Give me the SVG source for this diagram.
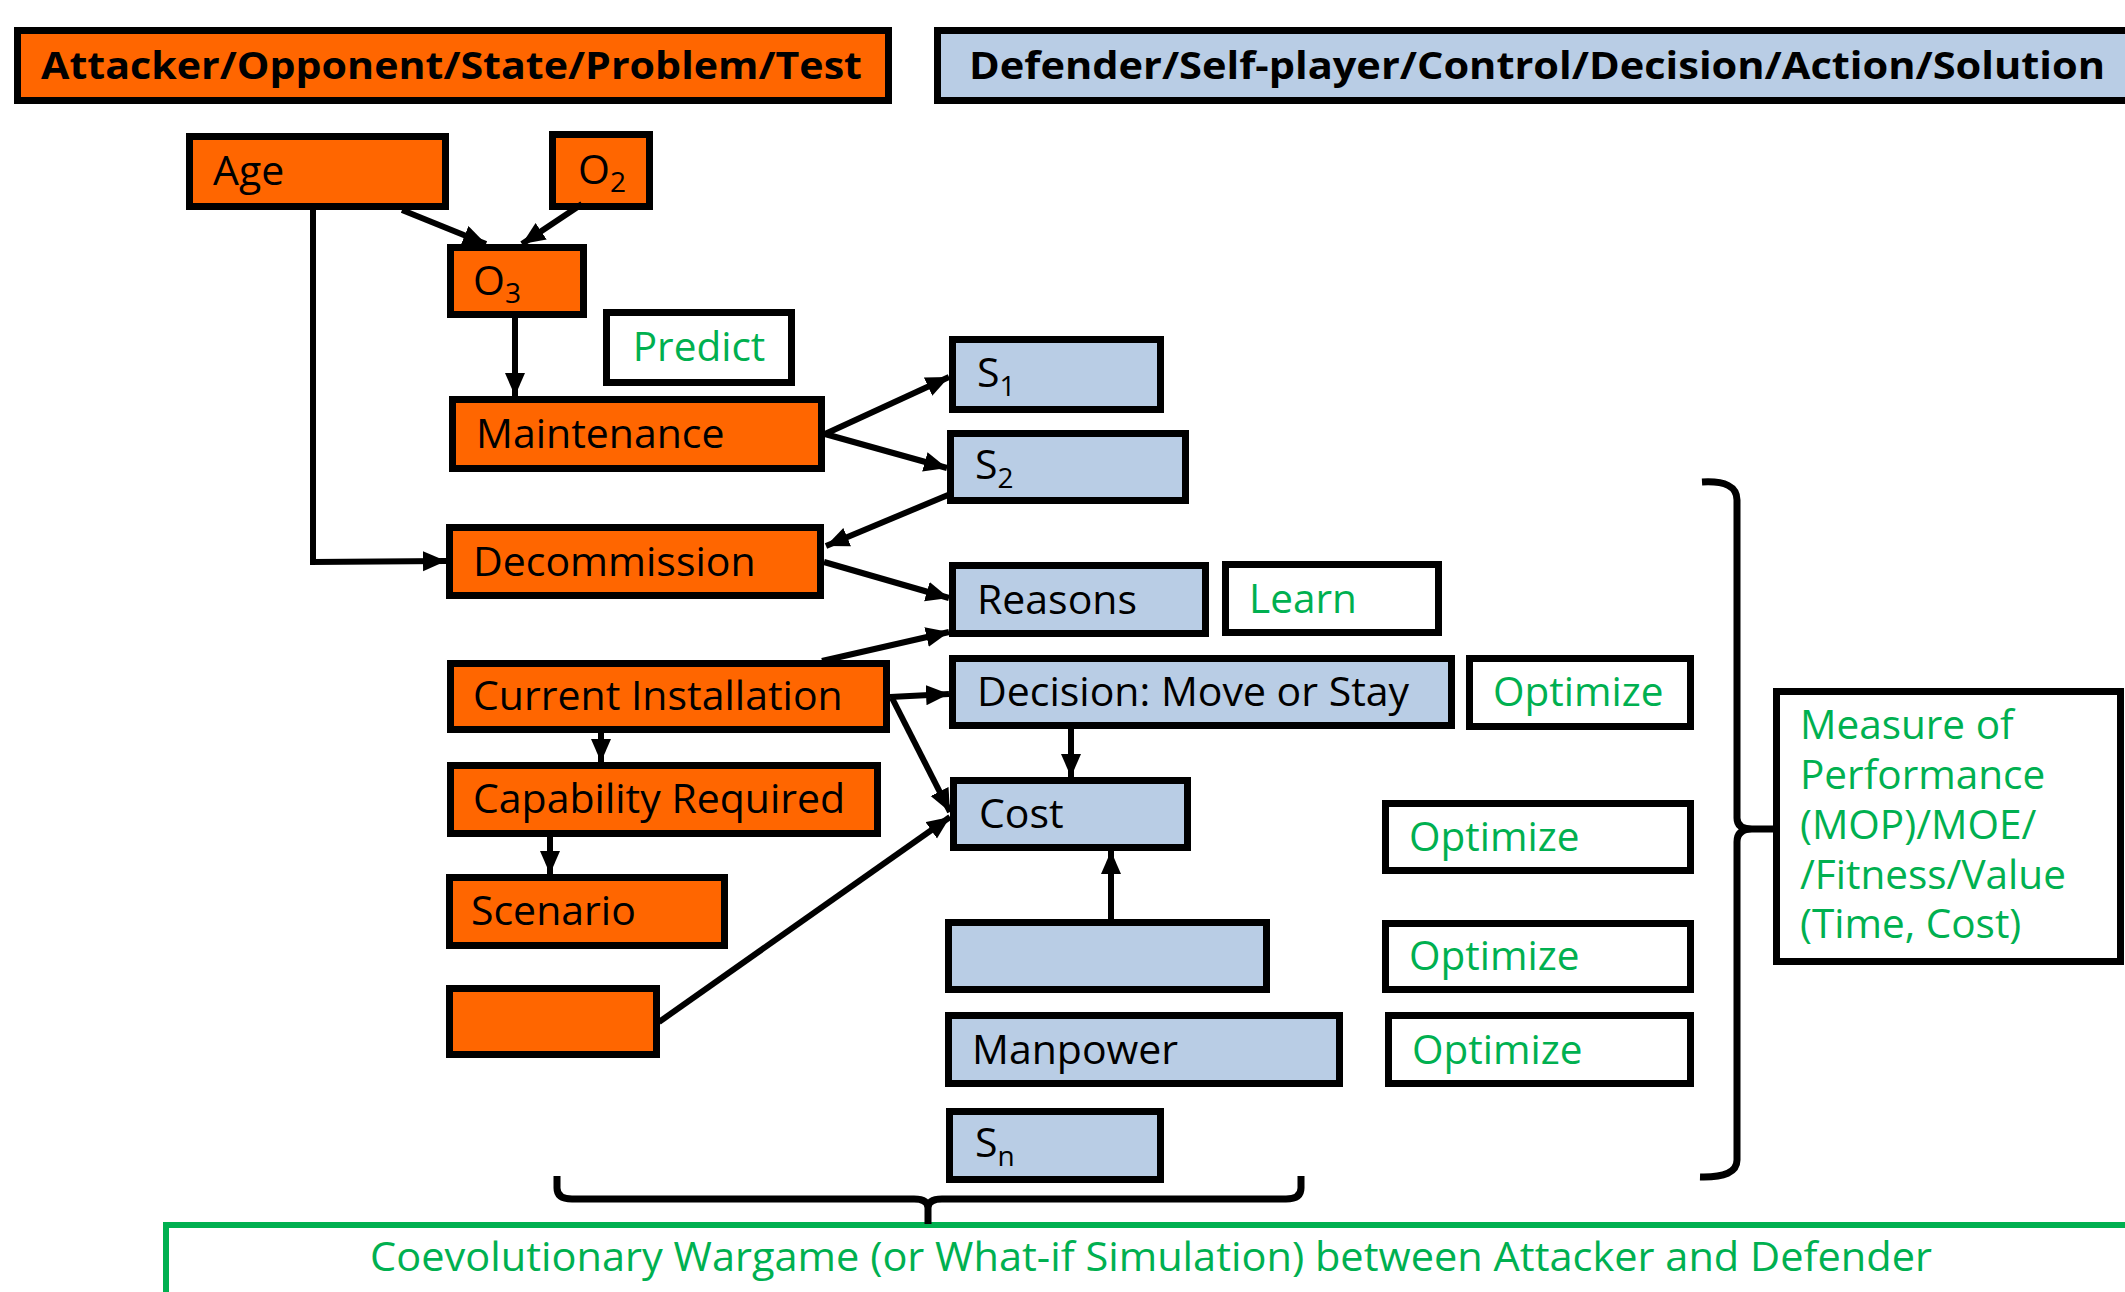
<svg xmlns="http://www.w3.org/2000/svg" width="2125" height="1292" viewBox="0 0 2125 1292">
<style>
.o{fill:#FF6600;stroke:#000;stroke-width:7}
.b{fill:#B9CDE5;stroke:#000;stroke-width:7}
.w{fill:#fff;stroke:#000;stroke-width:7}
.t{font-family:"Open Sans","Noto Sans","DejaVu Sans",sans-serif;font-size:41px;fill:#000}
.g{font-family:"Open Sans","Noto Sans","DejaVu Sans",sans-serif;font-size:40.5px;fill:#00B050}
.h{font-family:"Open Sans","Noto Sans","DejaVu Sans",sans-serif;font-size:38px;font-weight:bold;fill:#000}
.c{fill:none;stroke:#000;stroke-width:6}
.br{fill:none;stroke:#000;stroke-width:7;stroke-linejoin:round}
</style>
<defs>
<marker id="ah" markerUnits="userSpaceOnUse" markerWidth="24" markerHeight="22" refX="23" refY="10" orient="auto">
<path d="M0,0 L23,10 L0,20 z" fill="#000"/>
</marker>
</defs>
<rect width="2125" height="1292" fill="#fff"/>

<g id="header-attacker">
<rect class="o" x="17.5" y="30.5" width="871" height="70"/>
<text class="h" x="41" y="79" textLength="821" lengthAdjust="spacingAndGlyphs">Attacker/Opponent/State/Problem/Test</text>
</g>
<g id="header-defender">
<rect class="b" x="937.5" y="30.5" width="1200" height="70"/>
<text class="h" x="969" y="79" textLength="1136" lengthAdjust="spacingAndGlyphs">Defender/Self-player/Control/Decision/Action/Solution</text>
</g>

<g id="age"><rect class="o" x="189.5" y="136.5" width="256" height="70"/><text class="t" x="213" y="185">Age</text></g>
<g id="o2"><rect class="o" x="552.5" y="134.5" width="97" height="72"/><text class="t" x="578" y="184">O<tspan font-size="28" dy="8">2</tspan></text></g>
<g id="o3"><rect class="o" x="450.5" y="247.5" width="133" height="67"/><text class="t" x="473" y="295">O<tspan font-size="28" dy="8">3</tspan></text></g>
<g id="predict"><rect class="w" x="606.5" y="312.5" width="185" height="70"/><text class="g" x="699" y="361" text-anchor="middle">Predict</text></g>
<g id="maintenance"><rect class="o" x="452.5" y="399.5" width="369" height="69"/><text class="t" x="476" y="448">Maintenance</text></g>
<g id="decommission"><rect class="o" x="449.5" y="527.5" width="371" height="68"/><text class="t" x="473" y="576">Decommission</text></g>
<g id="current-installation"><rect class="o" x="450.5" y="663.5" width="436" height="66"/><text class="t" x="473" y="710">Current Installation</text></g>
<g id="capability-required"><rect class="o" x="450.5" y="765.5" width="427" height="68"/><text class="t" x="473" y="813">Capability  Required</text></g>
<g id="scenario"><rect class="o" x="449.5" y="877.5" width="275" height="68"/><text class="t" x="471" y="925">Scenario</text></g>
<g id="empty-orange"><rect class="o" x="449.5" y="988.5" width="207" height="66"/></g>

<g id="s1"><rect class="b" x="952.5" y="339.5" width="208" height="70"/><text class="t" x="977" y="387">S<tspan font-size="28" dy="9">1</tspan></text></g>
<g id="s2"><rect class="b" x="950.5" y="433.5" width="235" height="67"/><text class="t" x="975" y="479">S<tspan font-size="28" dy="9">2</tspan></text></g>
<g id="reasons"><rect class="b" x="952.5" y="565.5" width="253" height="68"/><text class="t" x="977" y="614">Reasons</text></g>
<g id="learn"><rect class="w" x="1225.5" y="564.5" width="213" height="68"/><text class="g" x="1249" y="613">Learn</text></g>
<g id="decision"><rect class="b" x="952.5" y="658.5" width="499" height="67"/><text class="t" x="977" y="706">Decision: Move or Stay</text></g>
<g id="optimize-1"><rect class="w" x="1469.5" y="658.5" width="221" height="68"/><text class="g" x="1493" y="706">Optimize</text></g>
<g id="cost"><rect class="b" x="953.5" y="780.5" width="234" height="67"/><text class="t" x="979" y="828">Cost</text></g>
<g id="empty-blue"><rect class="b" x="948.5" y="922.5" width="318" height="67"/></g>
<g id="manpower"><rect class="b" x="948.5" y="1015.5" width="391" height="68"/><text class="t" x="972" y="1064">Manpower</text></g>
<g id="sn"><rect class="b" x="949.5" y="1111.5" width="211" height="68"/><text class="t" x="975" y="1157">S<tspan font-size="28" dy="9">n</tspan></text></g>
<g id="optimize-2"><rect class="w" x="1385.5" y="803.5" width="305" height="67"/><text class="g" x="1409" y="851">Optimize</text></g>
<g id="optimize-3"><rect class="w" x="1385.5" y="923.5" width="305" height="66"/><text class="g" x="1409" y="970">Optimize</text></g>
<g id="optimize-4"><rect class="w" x="1388.5" y="1015.5" width="302" height="68"/><text class="g" x="1412" y="1064">Optimize</text></g>
<g id="measure"><rect class="w" x="1776.5" y="691.5" width="344" height="270"/>
<text class="g" x="1800"><tspan x="1800" y="739">Measure of</tspan><tspan x="1800" y="789">Performance</tspan><tspan x="1800" y="839">(MOP)/MOE/</tspan><tspan x="1800" y="889">/Fitness/Value</tspan><tspan x="1800" y="938">(Time, Cost)</tspan></text></g>
<g id="coevolutionary"><rect x="166" y="1225" width="2000" height="120" fill="#fff" stroke="#00B050" stroke-width="6"/>
<text class="g" x="370" y="1271" textLength="1562" lengthAdjust="spacingAndGlyphs">Coevolutionary Wargame (or What-if Simulation) between Attacker and Defender</text></g>

<g id="braces">
<path class="br" d="M1702,482 Q1737,480 1737,500 L1737,818 Q1737,829 1752,829 L1776,829 M1752,829 Q1737,829 1737,842 L1737,1160 Q1737,1178 1700,1177"/>
<path class="br" stroke-width="6" d="M557,1176 L557,1188 Q557,1199 572,1199 L914,1199 Q928,1199 928,1208 L928,1224 M928,1208 Q928,1199 942,1199 L1286,1199 Q1301,1199 1301,1188 L1301,1176"/>
</g>

<g id="connectors">
<line class="c" x1="402" y1="210" x2="486" y2="244" marker-end="url(#ah)"/>
<line class="c" x1="582" y1="204" x2="522" y2="244" marker-end="url(#ah)"/>
<line class="c" x1="515" y1="318" x2="515" y2="396" marker-end="url(#ah)"/>
<polyline class="c" points="313,210 313,562 446,561" marker-end="url(#ah)"/>
<line class="c" x1="825" y1="434" x2="949" y2="377" marker-end="url(#ah)"/>
<line class="c" x1="825" y1="434" x2="947" y2="468" marker-end="url(#ah)"/>
<line class="c" x1="948" y1="495" x2="826" y2="546" marker-end="url(#ah)"/>
<line class="c" x1="824" y1="562" x2="949" y2="598" marker-end="url(#ah)"/>
<line class="c" x1="822" y1="661" x2="949" y2="632" marker-end="url(#ah)"/>
<line class="c" x1="890" y1="697" x2="949" y2="694" marker-end="url(#ah)"/>
<line class="c" x1="892" y1="698" x2="950" y2="812" marker-end="url(#ah)"/>
<line class="c" x1="601" y1="731" x2="601" y2="762" marker-end="url(#ah)"/>
<line class="c" x1="550" y1="835" x2="550" y2="874" marker-end="url(#ah)"/>
<line class="c" x1="659" y1="1022" x2="950" y2="817" marker-end="url(#ah)"/>
<line class="c" x1="1071" y1="728" x2="1071" y2="777" marker-end="url(#ah)"/>
<line class="c" x1="1111" y1="920" x2="1111" y2="851" marker-end="url(#ah)"/>
</g>
</svg>
